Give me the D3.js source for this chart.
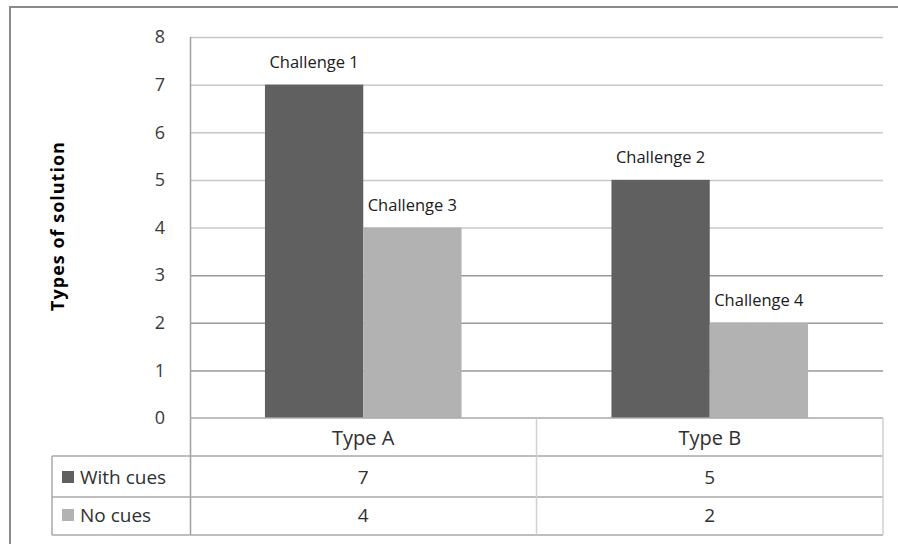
<!DOCTYPE html>
<html>
<head>
<meta charset="utf-8">
<script src="https://cdn.jsdelivr.net/npm/d3@7"></script>
<style>
  html, body { margin: 0; padding: 0; background: #fff; }
  svg { display: block; }
  text { font-family: "Open Sans", "Liberation Sans", sans-serif; }
</style>
</head>
<body>
<svg id="chart" width="898" height="544"></svg>
<script>
// Chart data
const categories = ["Type A", "Type B"];
const seriesNames = ["With cues", "No cues"];
const withCues = [7, 5];
const noCues = [4, 2];
const barLabels = [["Challenge 1", "Challenge 3"], ["Challenge 2", "Challenge 4"]];
const yTicks = [0, 1, 2, 3, 4, 5, 6, 7, 8];
const seriesColors = ["#606060", "#b2b2b2"];

const svg = d3.select("#chart");

// Plot area
const plot = { left: 190, right: 883, top: 37, bottom: 418 };
const rowH = [418, 456, 497, 535]; // table row boundaries
const tableLeft = 52;

// Outer frame
svg.append("rect")
  .attr("x", 10).attr("y", 7)
  .attr("width", 900).attr("height", 560)
  .attr("fill", "none").attr("stroke", "#8a8a8a").attr("stroke-width", 2);

const x0 = d3.scaleBand().domain(categories).range([plot.left, plot.right]).paddingInner(0).paddingOuter(0);
const x1 = d3.scaleBand().domain(seriesNames).range([0, x0.bandwidth()]).paddingInner(0).paddingOuter(0.7625);
const y = d3.scaleLinear().domain([0, 8]).range([plot.bottom, plot.top]);

// Gridlines
svg.append("g")
  .selectAll("line").data(yTicks.filter(t => t > 0)).join("line")
  .attr("x1", plot.left).attr("x2", plot.right)
  .attr("y1", d => y(d) + 0.5).attr("y2", d => y(d) + 0.5)
  .attr("stroke", d => d <= 3 ? "#9a9a9a" : "#c8c8c8").attr("stroke-width", 1.5);

// Y axis tick labels
const yAxis = d3.axisLeft(y).tickValues(yTicks).tickSize(0).tickPadding(0);
const yg = svg.append("g").attr("transform", `translate(${plot.left - 25},0)`).call(yAxis);
yg.attr("font-size", 18).attr("font-family", "'Open Sans', sans-serif");
yg.select(".domain").remove();
yg.selectAll("text").attr("fill", "#3a3a3a");

// Y axis title
svg.append("text")
  .attr("transform", `translate(64,226) rotate(-90)`)
  .attr("text-anchor", "middle")
  .attr("font-size", 18).attr("font-weight", "bold").attr("fill", "#000")
  .attr("letter-spacing", 1)
  .text("Types of solution");

// Bars
const data = categories.map((c, i) => ({
  cat: c,
  vals: [
    { s: seriesNames[0], v: withCues[i], label: barLabels[i][0], color: seriesColors[0] },
    { s: seriesNames[1], v: noCues[i], label: barLabels[i][1], color: seriesColors[1] }
  ]
}));

const groups = svg.append("g").selectAll("g").data(data).join("g")
  .attr("transform", d => `translate(${x0(d.cat)},0)`);

groups.selectAll("rect").data(d => d.vals).join("rect")
  .attr("x", d => x1(d.s))
  .attr("y", d => y(d.v))
  .attr("width", x1.bandwidth())
  .attr("height", d => y(0) - y(d.v))
  .attr("fill", d => d.color);

groups.selectAll("text.lbl").data(d => d.vals).join("text")
  .attr("class", "lbl")
  .attr("x", d => x1(d.s) + x1.bandwidth() / 2)
  .attr("y", d => y(d.v) - 17)
  .attr("text-anchor", "middle")
  .attr("font-size", 16.5).attr("fill", "#202020")
  .text(d => d.label);

// Vertical axis line
svg.append("line")
  .attr("x1", plot.left + 0.5).attr("x2", plot.left + 0.5)
  .attr("y1", plot.top).attr("y2", rowH[3])
  .attr("stroke", "#a0a0a0").attr("stroke-width", 1.5);

// Data table
const tbl = svg.append("g");
const lineColor = "#a8a8a8";
// horizontal lines
tbl.append("line").attr("x1", plot.left).attr("x2", plot.right)
  .attr("y1", rowH[0]).attr("y2", rowH[0]).attr("stroke", lineColor).attr("stroke-width", 1.5);
[1, 2, 3].forEach(i => {
  tbl.append("line").attr("x1", tableLeft).attr("x2", plot.right)
    .attr("y1", rowH[i]).attr("y2", rowH[i]).attr("stroke", lineColor).attr("stroke-width", 1.5);
});
// vertical lines
tbl.append("line").attr("x1", tableLeft).attr("x2", tableLeft)
  .attr("y1", rowH[1]).attr("y2", rowH[3]).attr("stroke", lineColor).attr("stroke-width", 1.5);
tbl.append("line").attr("x1", x0(categories[1])).attr("x2", x0(categories[1]))
  .attr("y1", rowH[0]).attr("y2", rowH[3]).attr("stroke", "#d0d0d0").attr("stroke-width", 1.5);
tbl.append("line").attr("x1", plot.right).attr("x2", plot.right)
  .attr("y1", rowH[0]).attr("y2", rowH[3]).attr("stroke", "#d0d0d0").attr("stroke-width", 1.5);

// Header: category names
tbl.selectAll("text.cat").data(categories).join("text")
  .attr("class", "cat")
  .attr("x", d => x0(d) + x0.bandwidth() / 2)
  .attr("y", 445)
  .attr("text-anchor", "middle")
  .attr("font-size", 20).attr("fill", "#303030")
  .text(d => d);

// Rows: legend key + values
const rows = [
  { name: seriesNames[0], color: seriesColors[0], vals: withCues },
  { name: seriesNames[1], color: seriesColors[1], vals: noCues }
];
const rowCenters = [477, 515];
rows.forEach((r, i) => {
  const cy = rowCenters[i];
  tbl.append("rect").attr("x", 62).attr("y", cy - 6).attr("width", 12).attr("height", 12).attr("fill", r.color);
  tbl.append("text").attr("x", 80).attr("y", cy + 7)
    .attr("font-size", 19).attr("fill", "#303030").text(r.name);
  tbl.selectAll(null).data(r.vals).join("text")
    .attr("x", (d, j) => x0(categories[j]) + x0.bandwidth() / 2)
    .attr("y", cy + 7)
    .attr("text-anchor", "middle")
    .attr("font-size", 19).attr("fill", "#303030")
    .text(d => d);
});
</script>
</body>
</html>
